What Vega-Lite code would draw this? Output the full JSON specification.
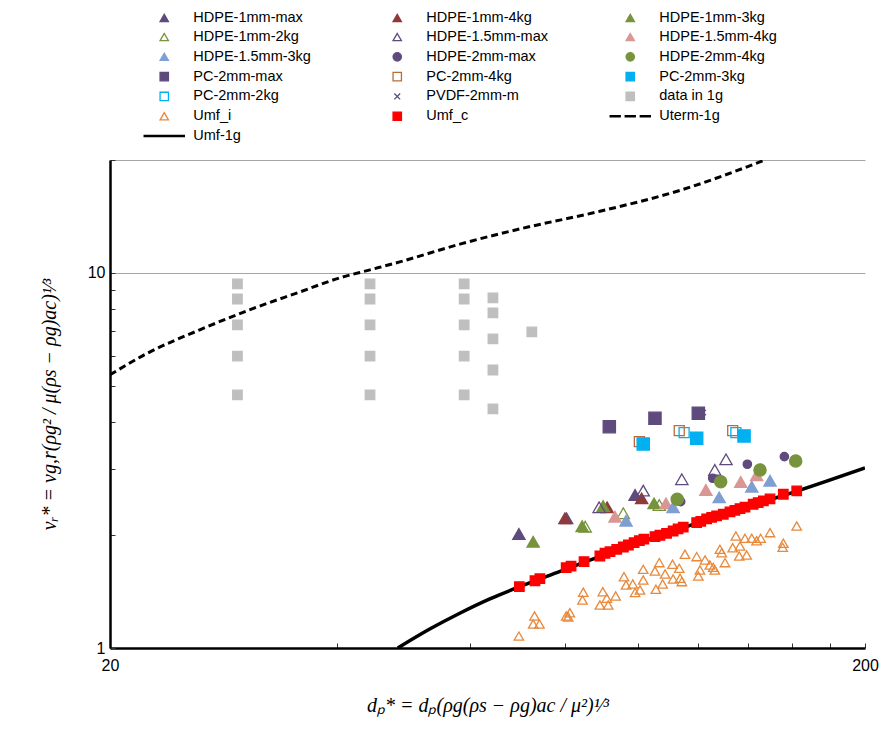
{
  "$schema": "https://vega.github.io/schema/vega-lite/v6.json",
  "width": 755,
  "height": 488,
  "autosize": {"type": "none"},
  "padding": {"left": 110, "top": 160, "right": 17, "bottom": 89},
  "background": "white",
  "config": {
    "view": {"stroke": null},
    "font": "Liberation Sans",
    "legend": {
      "orient": "none",
      "direction": "horizontal",
      "legendX": 47,
      "legendY": -150,
      "columns": 3,
      "gridAlign": "all",
      "columnPadding": 59,
      "rowPadding": 3.8,
      "symbolSize": 70,
      "labelFont": "Liberation Sans",
      "labelFontSize": 14.5,
      "labelColor": "black",
      "labelOffset": 21.8,
      "symbolStrokeWidth": 1.3,
      "padding": 0,
      "labelLimit": 300
    }
  },
  "data": {"values": [
    {"series": "data in 1g", "x": 29.5, "y": 9.35}, {"series": "data in 1g", "x": 29.5, "y": 8.52}, {"series": "data in 1g", "x": 29.5, "y": 7.27}, {"series": "data in 1g", "x": 29.5, "y": 6.0}, {"series": "data in 1g", "x": 29.5, "y": 4.73},
    {"series": "data in 1g", "x": 44.2, "y": 9.35}, {"series": "data in 1g", "x": 44.2, "y": 8.52}, {"series": "data in 1g", "x": 44.2, "y": 7.27}, {"series": "data in 1g", "x": 44.2, "y": 6.0}, {"series": "data in 1g", "x": 44.2, "y": 4.73},
    {"series": "data in 1g", "x": 58.9, "y": 9.35}, {"series": "data in 1g", "x": 58.9, "y": 8.52}, {"series": "data in 1g", "x": 58.9, "y": 7.27}, {"series": "data in 1g", "x": 58.9, "y": 6.0}, {"series": "data in 1g", "x": 58.9, "y": 4.73},
    {"series": "data in 1g", "x": 64.3, "y": 8.58}, {"series": "data in 1g", "x": 64.3, "y": 7.82}, {"series": "data in 1g", "x": 64.3, "y": 6.67}, {"series": "data in 1g", "x": 64.3, "y": 5.51}, {"series": "data in 1g", "x": 64.3, "y": 4.34},
    {"series": "data in 1g", "x": 72.4, "y": 6.96},
    {"series": "Uterm-1g", "x": 20, "y": 5.35}, {"series": "Uterm-1g", "x": 22.6, "y": 6.16}, {"series": "Uterm-1g", "x": 26.3, "y": 7.05}, {"series": "Uterm-1g", "x": 30.6, "y": 7.97}, {"series": "Uterm-1g", "x": 35.7, "y": 8.9}, {"series": "Uterm-1g", "x": 40.3, "y": 9.7}, {"series": "Uterm-1g", "x": 44.2, "y": 10.19}, {"series": "Uterm-1g", "x": 48.4, "y": 10.7}, {"series": "Uterm-1g", "x": 58.3, "y": 11.95}, {"series": "Uterm-1g", "x": 69.8, "y": 13.1}, {"series": "Uterm-1g", "x": 89.1, "y": 14.6}, {"series": "Uterm-1g", "x": 113.8, "y": 16.6}, {"series": "Uterm-1g", "x": 147.4, "y": 20},
    {"series": "Umf-1g", "x": 48.1, "y": 1.0}, {"series": "Umf-1g", "x": 53.1, "y": 1.125}, {"series": "Umf-1g", "x": 58.2, "y": 1.24}, {"series": "Umf-1g", "x": 63.7, "y": 1.352}, {"series": "Umf-1g", "x": 69.6, "y": 1.454}, {"series": "Umf-1g", "x": 78.9, "y": 1.6}, {"series": "Umf-1g", "x": 89.1, "y": 1.755}, {"series": "Umf-1g", "x": 103.8, "y": 1.955}, {"series": "Umf-1g", "x": 120.9, "y": 2.165}, {"series": "Umf-1g", "x": 140.8, "y": 2.39}, {"series": "Umf-1g", "x": 162.6, "y": 2.62}, {"series": "Umf-1g", "x": 200, "y": 3.02},
    {"series": "Umf_i", "x": 69.6, "y": 1.076}, {"series": "Umf_i", "x": 73.0, "y": 1.217}, {"series": "Umf_i", "x": 72.7, "y": 1.159}, {"series": "Umf_i", "x": 74.1, "y": 1.159}, {"series": "Umf_i", "x": 80.4, "y": 1.217}, {"series": "Umf_i", "x": 80.9, "y": 1.21}, {"series": "Umf_i", "x": 81.3, "y": 1.242}, {"series": "Umf_i", "x": 84.7, "y": 1.408}, {"series": "Umf_i", "x": 84.5, "y": 1.343}, {"series": "Umf_i", "x": 89.9, "y": 1.413}, {"series": "Umf_i", "x": 89.1, "y": 1.302}, {"series": "Umf_i", "x": 91.0, "y": 1.357}, {"series": "Umf_i", "x": 91.4, "y": 1.302}, {"series": "Umf_i", "x": 93.5, "y": 1.376}, {"series": "Umf_i", "x": 95.9, "y": 1.549}, {"series": "Umf_i", "x": 96.5, "y": 1.472}, {"series": "Umf_i", "x": 98.5, "y": 1.481}, {"series": "Umf_i", "x": 99.2, "y": 1.405}, {"series": "Umf_i", "x": 100.7, "y": 1.428}, {"series": "Umf_i", "x": 101.7, "y": 1.621}, {"series": "Umf_i", "x": 101.7, "y": 1.518}, {"series": "Umf_i", "x": 106.8, "y": 1.689}, {"series": "Umf_i", "x": 105.4, "y": 1.604}, {"series": "Umf_i", "x": 108.7, "y": 1.575}, {"series": "Umf_i", "x": 111.2, "y": 1.672}, {"series": "Umf_i", "x": 113.5, "y": 1.631}, {"series": "Umf_i", "x": 107.9, "y": 1.481}, {"series": "Umf_i", "x": 105.7, "y": 1.434}, {"series": "Umf_i", "x": 111.4, "y": 1.528}, {"series": "Umf_i", "x": 113.8, "y": 1.534}, {"series": "Umf_i", "x": 114.4, "y": 1.503}, {"series": "Umf_i", "x": 115.5, "y": 1.778}, {"series": "Umf_i", "x": 119.7, "y": 1.752}, {"series": "Umf_i", "x": 122.8, "y": 1.717}, {"series": "Umf_i", "x": 120.9, "y": 1.614}, {"series": "Umf_i", "x": 120.3, "y": 1.556}, {"series": "Umf_i", "x": 124.6, "y": 1.665}, {"series": "Umf_i", "x": 125.9, "y": 1.641}, {"series": "Umf_i", "x": 126.5, "y": 1.614}, {"series": "Umf_i", "x": 128.5, "y": 1.833}, {"series": "Umf_i", "x": 129.2, "y": 1.795}, {"series": "Umf_i", "x": 130.5, "y": 1.689}, {"series": "Umf_i", "x": 133.6, "y": 1.851}, {"series": "Umf_i", "x": 134.9, "y": 1.989}, {"series": "Umf_i", "x": 136.3, "y": 1.759}, {"series": "Umf_i", "x": 136.6, "y": 1.871}, {"series": "Umf_i", "x": 139.4, "y": 1.77}, {"series": "Umf_i", "x": 138.7, "y": 1.961}, {"series": "Umf_i", "x": 141.6, "y": 1.961}, {"series": "Umf_i", "x": 143.7, "y": 1.932}, {"series": "Umf_i", "x": 145.5, "y": 1.961}, {"series": "Umf_i", "x": 149.7, "y": 2.03}, {"series": "Umf_i", "x": 155.9, "y": 1.902}, {"series": "Umf_i", "x": 155.6, "y": 1.855}, {"series": "Umf_i", "x": 162.4, "y": 2.115},
    {"series": "Umf_c", "x": 69.7, "y": 1.457}, {"series": "Umf_c", "x": 73.1, "y": 1.511}, {"series": "Umf_c", "x": 74.2, "y": 1.53}, {"series": "Umf_c", "x": 80.4, "y": 1.637}, {"series": "Umf_c", "x": 81.6, "y": 1.652}, {"series": "Umf_c", "x": 84.9, "y": 1.699}, {"series": "Umf_c", "x": 89.1, "y": 1.759}, {"series": "Umf_c", "x": 90.5, "y": 1.789}, {"series": "Umf_c", "x": 91.9, "y": 1.806}, {"series": "Umf_c", "x": 93.8, "y": 1.833}, {"series": "Umf_c", "x": 95.7, "y": 1.859}, {"series": "Umf_c", "x": 97.2, "y": 1.882}, {"series": "Umf_c", "x": 98.9, "y": 1.909}, {"series": "Umf_c", "x": 100.5, "y": 1.932}, {"series": "Umf_c", "x": 101.9, "y": 1.95}, {"series": "Umf_c", "x": 105.4, "y": 1.981}, {"series": "Umf_c", "x": 107.0, "y": 1.998}, {"series": "Umf_c", "x": 109.2, "y": 2.022}, {"series": "Umf_c", "x": 111.4, "y": 2.051}, {"series": "Umf_c", "x": 113.1, "y": 2.077}, {"series": "Umf_c", "x": 114.9, "y": 2.099}, {"series": "Umf_c", "x": 119.7, "y": 2.159}, {"series": "Umf_c", "x": 121.2, "y": 2.177}, {"series": "Umf_c", "x": 123.4, "y": 2.208}, {"series": "Umf_c", "x": 125.3, "y": 2.231}, {"series": "Umf_c", "x": 127.2, "y": 2.249}, {"series": "Umf_c", "x": 129.8, "y": 2.273}, {"series": "Umf_c", "x": 132.5, "y": 2.305}, {"series": "Umf_c", "x": 134.5, "y": 2.329}, {"series": "Umf_c", "x": 136.6, "y": 2.353}, {"series": "Umf_c", "x": 138.7, "y": 2.373}, {"series": "Umf_c", "x": 142.2, "y": 2.417}, {"series": "Umf_c", "x": 144.4, "y": 2.441}, {"series": "Umf_c", "x": 146.7, "y": 2.466}, {"series": "Umf_c", "x": 149.7, "y": 2.497}, {"series": "Umf_c", "x": 155.9, "y": 2.57}, {"series": "Umf_c", "x": 162.4, "y": 2.623},
    {"series": "HDPE-1mm-max", "x": 69.6, "y": 2.014}, {"series": "HDPE-1mm-max", "x": 80.5, "y": 2.218}, {"series": "HDPE-1mm-max", "x": 99.2, "y": 2.559},
    {"series": "HDPE-1mm-4kg", "x": 80.1, "y": 2.218}, {"series": "HDPE-1mm-4kg", "x": 91.1, "y": 2.373}, {"series": "HDPE-1mm-4kg", "x": 101.2, "y": 2.507},
    {"series": "HDPE-1mm-3kg", "x": 72.7, "y": 1.92}, {"series": "HDPE-1mm-3kg", "x": 84.4, "y": 2.112}, {"series": "HDPE-1mm-3kg", "x": 90.0, "y": 2.391}, {"series": "HDPE-1mm-3kg", "x": 105.1, "y": 2.431},
    {"series": "HDPE-1mm-2kg", "x": 85.2, "y": 2.106}, {"series": "HDPE-1mm-2kg", "x": 95.7, "y": 2.287}, {"series": "HDPE-1mm-2kg", "x": 106.8, "y": 2.406},
    {"series": "HDPE-1.5mm-max", "x": 88.9, "y": 2.373}, {"series": "HDPE-1.5mm-max", "x": 101.7, "y": 2.628}, {"series": "HDPE-1.5mm-max", "x": 114.4, "y": 2.818}, {"series": "HDPE-1.5mm-max", "x": 126.5, "y": 2.983}, {"series": "HDPE-1.5mm-max", "x": 130.9, "y": 3.185},
    {"series": "HDPE-1.5mm-4kg", "x": 93.3, "y": 2.239}, {"series": "HDPE-1.5mm-4kg", "x": 109.0, "y": 2.431}, {"series": "HDPE-1.5mm-4kg", "x": 123.1, "y": 2.639}, {"series": "HDPE-1.5mm-4kg", "x": 136.9, "y": 2.771}, {"series": "HDPE-1.5mm-4kg", "x": 143.7, "y": 2.887},
    {"series": "HDPE-1.5mm-3kg", "x": 96.5, "y": 2.185}, {"series": "HDPE-1.5mm-3kg", "x": 111.4, "y": 2.373}, {"series": "HDPE-1.5mm-3kg", "x": 128.2, "y": 2.522}, {"series": "HDPE-1.5mm-3kg", "x": 141.6, "y": 2.692}, {"series": "HDPE-1.5mm-3kg", "x": 149.7, "y": 2.793},
    {"series": "HDPE-2mm-max", "x": 114.0, "y": 2.455}, {"series": "HDPE-2mm-max", "x": 125.7, "y": 2.835}, {"series": "HDPE-2mm-max", "x": 139.7, "y": 3.09}, {"series": "HDPE-2mm-max", "x": 156.4, "y": 3.237},
    {"series": "HDPE-2mm-4kg", "x": 112.8, "y": 2.492}, {"series": "HDPE-2mm-4kg", "x": 128.8, "y": 2.776}, {"series": "HDPE-2mm-4kg", "x": 145.2, "y": 2.983}, {"series": "HDPE-2mm-4kg", "x": 161.9, "y": 3.152},
    {"series": "PC-2mm-max", "x": 91.7, "y": 3.891}, {"series": "PC-2mm-max", "x": 105.4, "y": 4.097}, {"series": "PC-2mm-max", "x": 120.3, "y": 4.226},
    {"series": "PC-2mm-4kg", "x": 100.5, "y": 3.549}, {"series": "PC-2mm-4kg", "x": 113.5, "y": 3.797}, {"series": "PC-2mm-4kg", "x": 133.6, "y": 3.797},
    {"series": "PC-2mm-2kg", "x": 115.2, "y": 3.751}, {"series": "PC-2mm-2kg", "x": 134.9, "y": 3.751},
    {"series": "PC-2mm-3kg", "x": 101.7, "y": 3.499}, {"series": "PC-2mm-3kg", "x": 119.7, "y": 3.625}, {"series": "PC-2mm-3kg", "x": 138.3, "y": 3.676},
    {"series": "PVDF-2mm-m", "x": 122.1, "y": 4.242}
  ]},
  "layer": [
    {
      "transform": [{"filter": "datum.series === 'Uterm-1g'"}],
      "mark": {"type": "line", "color": "black", "strokeWidth": 3, "strokeDash": [7, 4], "interpolate": "monotone", "clip": true},
      "encoding": {
        "x": {"field": "x", "type": "quantitative"},
        "y": {"field": "y", "type": "quantitative"}
      }
    },
    {
      "transform": [{"filter": "datum.series === 'Umf-1g'"}],
      "mark": {"type": "line", "color": "black", "strokeWidth": 3.5, "interpolate": "monotone", "clip": true},
      "encoding": {
        "x": {"field": "x", "type": "quantitative"},
        "y": {"field": "y", "type": "quantitative"}
      }
    },
    {
      "transform": [{"filter": "datum.series !== 'Uterm-1g' && datum.series !== 'Umf-1g'"}],
      "mark": {"type": "point", "opacity": 1, "strokeWidth": 1.3, "clip": true},
      "encoding": {
        "x": {
          "field": "x", "type": "quantitative",
          "scale": {"type": "log", "domain": [20, 200], "nice": false},
          "axis": {
            "values": [20, 40, 60, 80, 100, 120, 140, 160, 180, 200],
            "format": "d",
            "labelExpr": "datum.value == 20 || datum.value == 200 ? datum.label : ''",
            "grid": false,
            "domainColor": "black", "domainWidth": 2.5,
            "tickColor": "#333333", "tickSize": -5, "tickWidth": 1,
            "labelFont": "Liberation Sans", "labelFontSize": 16, "labelColor": "black",
            "labelPadding": 14, "labelOverlap": false, "labelBound": false, "labelFlush": false,
            "title": "dₚ* = dₚ(ρg(ρs − ρg)ac / μ²)¹⁄³",
            "titleFont": "Liberation Serif", "titleFontStyle": "italic", "titleFontWeight": "normal",
            "titleFontSize": 20, "titleColor": "black", "titlePadding": 22
          }
        },
        "y": {
          "field": "y", "type": "quantitative",
          "scale": {"type": "log", "domain": [1, 20], "nice": false},
          "axis": {
            "values": [1, 2, 3, 4, 5, 6, 7, 8, 9, 10, 20],
            "format": "d",
            "labelExpr": "datum.value == 1 || datum.value == 10 ? datum.label : ''",
            "grid": true,
            "gridColor": "#a6a6a6", "gridWidth": 1.2,
            "gridOpacity": {"condition": {"test": "datum.value == 10 || datum.value == 20", "value": 1}, "value": 0},
            "domainColor": "black", "domainWidth": 2.5,
            "tickColor": "#333333", "tickSize": -5, "tickWidth": 1,
            "labelFont": "Liberation Sans", "labelFontSize": 16, "labelColor": "black",
            "labelPadding": 10, "labelOverlap": false, "labelFlush": false,
            "title": "vᵣ* = vg,r(ρg² / μ(ρs − ρg)ac)¹⁄³",
            "titleFont": "Liberation Serif", "titleFontStyle": "italic", "titleFontWeight": "normal",
            "titleFontSize": 20, "titleColor": "black", "titlePadding": 28
          }
        },
        "shape": {
          "field": "series", "type": "nominal",
          "scale": {
            "domain": ["HDPE-1mm-max", "HDPE-1mm-4kg", "HDPE-1mm-3kg", "HDPE-1mm-2kg", "HDPE-1.5mm-max", "HDPE-1.5mm-4kg", "HDPE-1.5mm-3kg", "HDPE-2mm-max", "HDPE-2mm-4kg", "PC-2mm-max", "PC-2mm-4kg", "PC-2mm-3kg", "PC-2mm-2kg", "PVDF-2mm-m", "data in 1g", "Umf_i", "Umf_c", "Uterm-1g", "Umf-1g"],
            "range": ["triangle-up", "triangle-up", "triangle-up", "triangle-up", "triangle-up", "triangle-up", "triangle-up", "circle", "circle", "square", "square", "square", "square", "M-0.7,-0.7L0.7,0.7M0.7,-0.7L-0.7,0.7", "square", "triangle-up", "square", "M-4.8,-0.15H-2.4V0.15H-4.8Z M-1.2,-0.15H1.2V0.15H-1.2Z M2.4,-0.15H4.8V0.15H2.4Z", "M-4.8,-0.15H4.8V0.15H-4.8Z"]
          },
          "legend": {"title": null}
        },
        "fill": {
          "field": "series", "type": "nominal",
          "scale": {
            "domain": ["HDPE-1mm-max", "HDPE-1mm-4kg", "HDPE-1mm-3kg", "HDPE-1mm-2kg", "HDPE-1.5mm-max", "HDPE-1.5mm-4kg", "HDPE-1.5mm-3kg", "HDPE-2mm-max", "HDPE-2mm-4kg", "PC-2mm-max", "PC-2mm-4kg", "PC-2mm-3kg", "PC-2mm-2kg", "PVDF-2mm-m", "data in 1g", "Umf_i", "Umf_c", "Uterm-1g", "Umf-1g"],
            "range": ["#5F4A7E", "#8E3A3A", "#77933C", "transparent", "transparent", "#D99694", "#7F9FD2", "#5F4A7E", "#77933C", "#5F4A7E", "transparent", "#00B0F0", "transparent", "transparent", "#BFBFBF", "transparent", "#FF0000", "black", "black"]
          },
          "legend": {"title": null}
        },
        "stroke": {
          "field": "series", "type": "nominal",
          "scale": {
            "domain": ["HDPE-1mm-max", "HDPE-1mm-4kg", "HDPE-1mm-3kg", "HDPE-1mm-2kg", "HDPE-1.5mm-max", "HDPE-1.5mm-4kg", "HDPE-1.5mm-3kg", "HDPE-2mm-max", "HDPE-2mm-4kg", "PC-2mm-max", "PC-2mm-4kg", "PC-2mm-3kg", "PC-2mm-2kg", "PVDF-2mm-m", "data in 1g", "Umf_i", "Umf_c", "Uterm-1g", "Umf-1g"],
            "range": ["#5F4A7E", "#8E3A3A", "#77933C", "#77933C", "#5F4A7E", "#D99694", "#7F9FD2", "#5F4A7E", "#77933C", "#5F4A7E", "#B86C3A", "#00B0F0", "#00B0F0", "#5F4A7E", "#BFBFBF", "#E8893B", "#FF0000", "black", "black"]
          },
          "legend": {"title": null}
        },
        "size": {
          "condition": [
            {"test": "datum.series === 'Umf_i'", "value": 90},
            {"test": "datum.series === 'HDPE-2mm-max'", "value": 70},
            {"test": "datum.series === 'data in 1g' || datum.series === 'Umf_c'", "value": 90},
            {"test": "datum.series === 'PC-2mm-4kg' || datum.series === 'PC-2mm-2kg'", "value": 100},
            {"test": "datum.series === 'PVDF-2mm-m'", "value": 60}
          ],
          "value": 150
        }
      }
    }
  ]
}
